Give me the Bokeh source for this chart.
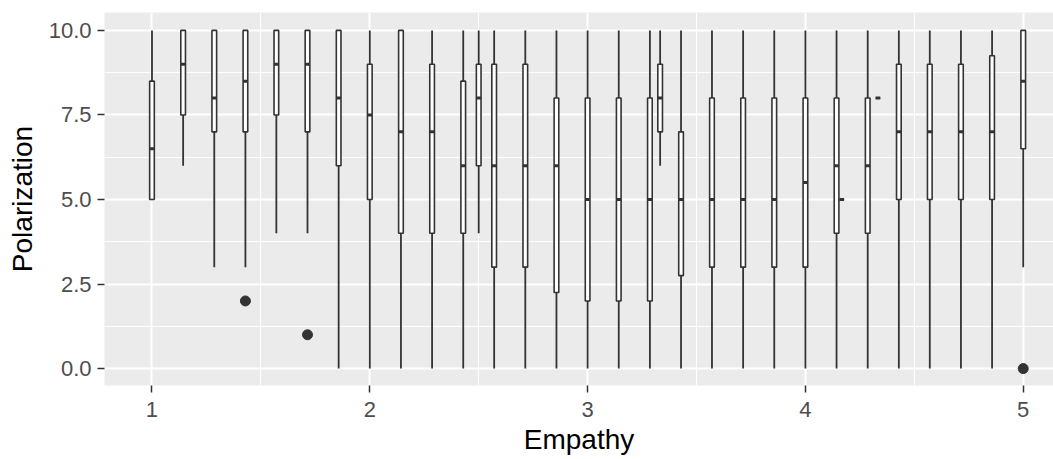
from bokeh.plotting import figure
from bokeh.models import Range1d, FixedTicker, ColumnDataSource
from bokeh.embed import file_html
from bokeh.resources import INLINE

# Empathy groups (x) and box statistics for Polarization (y)
empathy = [1.0, 1.143, 1.286, 1.429, 1.571, 1.714, 1.857, 2.0, 2.143, 2.286, 2.429,
           2.5, 2.571, 2.714, 2.857, 3.0, 3.143, 3.286, 3.333, 3.429, 3.571, 3.714,
           3.857, 4.0, 4.143, 4.167, 4.286, 4.333, 4.429, 4.571, 4.714, 4.857, 5.0]
lower = [5, 6, 3, 3, 4, 4, 0, 0, 0, 0, 0,
         4, 0, 0, 0, 0, 0, 0, 6, 0, 0, 0,
         0, 0, 0, 5, 0, 8, 0, 0, 0, 0, 3]
q1 = [5, 7.5, 7, 7, 7.5, 7, 6, 5, 4, 4, 4,
      6, 3, 3, 2.25, 2, 2, 2, 7, 2.75, 3, 3,
      3, 3, 4, 5, 4, 8, 5, 5, 5, 5, 6.5]
median = [6.5, 9, 8, 8.5, 9, 9, 8, 7.5, 7, 7, 6,
          8, 6, 6, 6, 5, 5, 5, 8, 5, 5, 5,
          5, 5.5, 6, 5, 6, 8, 7, 7, 7, 7, 8.5]
q3 = [8.5, 10, 10, 10, 10, 10, 10, 9, 10, 9, 8.5,
      9, 9, 9, 8, 8, 8, 8, 9, 7, 8, 8,
      8, 8, 8, 5, 8, 8, 9, 9, 9, 9.25, 10]
upper = [10, 10, 10, 10, 10, 10, 10, 10, 10, 10, 10,
         10, 10, 10, 10, 10, 10, 10, 10, 10, 10, 10,
         10, 10, 10, 5, 10, 8, 10, 10, 10, 10, 10]
outlier_x = [1.429, 1.714, 5.0]
outlier_y = [2, 1, 0]

x_ticks = [1, 2, 3, 4, 5]
x_minor = [1.5, 2.5, 3.5, 4.5]
y_ticks = [0, 2.5, 5, 7.5, 10]
y_minor = [1.25, 3.75, 6.25, 8.75]
y_tick_labels = ["0.0", "2.5", "5.0", "7.5", "10.0"]

BOX_W = 0.9 / 42
HALF = BOX_W / 2
LINE = "#333333"

src = ColumnDataSource(dict(
    x=empathy, lo=lower, q1=q1, med=median, q3=q3, hi=upper,
    xl=[v - HALF for v in empathy], xr=[v + HALF for v in empathy],
))

p = figure(width=1053, height=459, output_backend="svg", toolbar_location=None,
           x_range=Range1d(0.782, 5.139), y_range=Range1d(-0.5, 10.53),
           min_border_left=104, min_border_right=0, min_border_top=12,
           min_border_bottom=74)
p.background_fill_color = "#EBEBEB"
p.border_fill_color = "white"
p.outline_line_color = None

for ax, t, m in ((p.xaxis[0], x_ticks, x_minor), (p.yaxis[0], y_ticks, y_minor)):
    ax.ticker = FixedTicker(ticks=t, minor_ticks=m)
    ax.axis_line_color = None
    ax.major_tick_line_color = LINE
    ax.major_tick_line_width = 1.5
    ax.major_tick_out = 7
    ax.major_tick_in = 0
    ax.minor_tick_line_color = None
    ax.major_label_text_color = "#4D4D4D"
    ax.major_label_text_font = "Liberation Sans"
    ax.major_label_text_font_size = "22px"
    ax.major_label_standoff = 6
    ax.axis_label_text_font = "Liberation Sans"
    ax.axis_label_text_font_size = "28px"
    ax.axis_label_text_font_style = "normal"
    ax.axis_label_text_color = "black"
    ax.axis_label_standoff = 8

p.xaxis[0].major_label_standoff = 9
p.xaxis[0].axis_label_standoff = 4
p.yaxis[0].major_label_overrides = {t: l for t, l in zip(y_ticks, y_tick_labels)}
p.xaxis.axis_label = "Empathy"
p.yaxis.axis_label = "Polarization"

for g in p.grid:
    g.grid_line_color = "white"
    g.grid_line_width = 2
    g.minor_grid_line_color = "white"
    g.minor_grid_line_width = 1

# whiskers
p.segment(x0="x", y0="lo", x1="x", y1="q1", source=src, line_color=LINE, line_width=1.8)
p.segment(x0="x", y0="q3", x1="x", y1="hi", source=src, line_color=LINE, line_width=1.8)
# boxes
p.quad(left="xl", right="xr", bottom="q1", top="q3", source=src,
       fill_color="white", line_color=LINE, line_width=1.6)
# medians
p.segment(x0="xl", y0="med", x1="xr", y1="med", source=src, line_color=LINE, line_width=3)
# outliers
p.scatter(outlier_x, outlier_y, size=10, fill_color=LINE, line_color=LINE)

open("out.html", "w").write(file_html(p, INLINE))
